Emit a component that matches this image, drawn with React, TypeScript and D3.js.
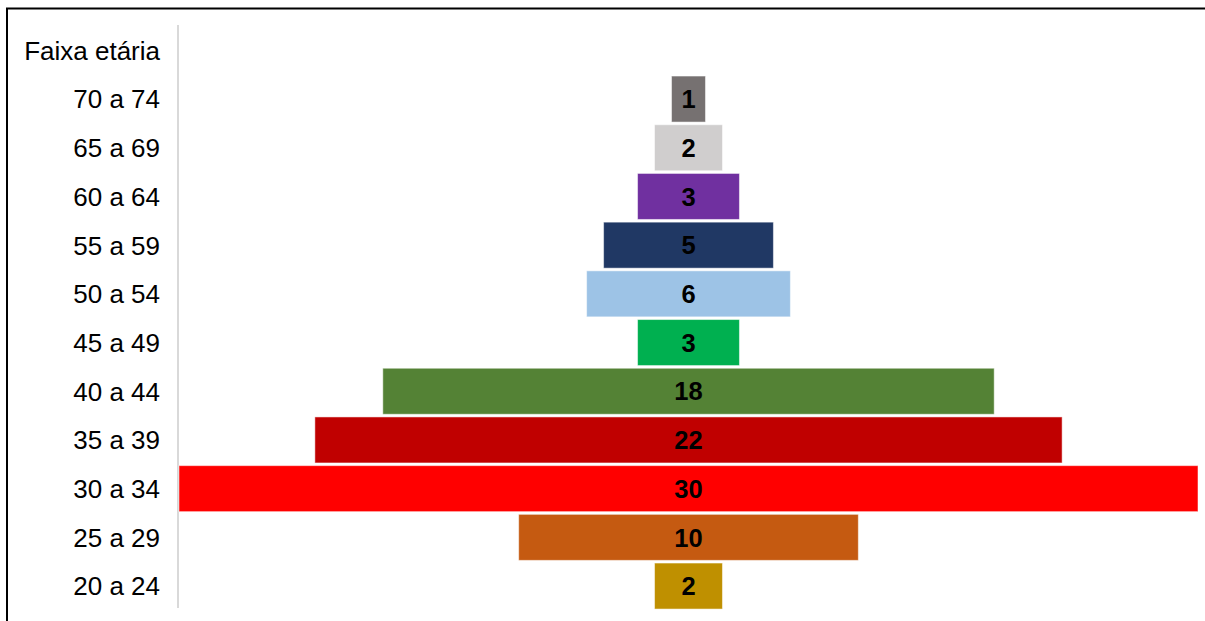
import React from "react";
import * as d3 from "d3";

const headerLabel = "Faixa etária";
const categories = ["70 a 74", "65 a 69", "60 a 64", "55 a 59", "50 a 54", "45 a 49", "40 a 44", "35 a 39", "30 a 34", "25 a 29", "20 a 24"];
const values = [1, 2, 3, 5, 6, 3, 18, 22, 30, 10, 2];
const colors = ["#767171", "#d0cece", "#7030a0", "#203864", "#9dc3e6", "#00b050", "#548235", "#c00000", "#ff0000", "#c55a11", "#bf9000"];

const W = 1205;
const H = 621;
const CENTER = 688.5;
const MAXW = 1019;

export default function App() {
  const rows = [headerLabel, ...categories];
  const y = d3.scaleBand<string>().domain(rows).range([26, 610.4]).paddingInner(0.055).paddingOuter(0.0275);
  const maxV = d3.max(values) as number;
  const w = d3.scaleLinear().domain([0, maxV]).range([0, MAXW]);
  const font = "'Liberation Sans', Arial, sans-serif";
  return (
    <svg width={W} height={H} style={{ position: "absolute", left: 0, top: 0, background: "#fff" }}>
      <line x1={6} x2={W} y1={8.5} y2={8.5} stroke="#000" strokeWidth={2} />
      <line x1={7} x2={7} y1={8} y2={H} stroke="#000" strokeWidth={2} />
      <line x1={178} x2={178} y1={25} y2={608} stroke="#d9d9d9" strokeWidth={2} />
      {categories.map((c, i) => {
        const bw = w(values[i]);
        const yy = y(c)!;
        return (
          <g key={c}>
            <rect x={CENTER - bw / 2} y={yy} width={bw} height={y.bandwidth()} fill={colors[i]} stroke="#ffffff" strokeOpacity={0.5} strokeWidth={1} />
            <text x={CENTER} y={yy + y.bandwidth() / 2} dy="0.36em" textAnchor="middle" fontFamily={font} fontWeight="bold" fontSize={25.5} fill="#000">{values[i]}</text>
          </g>
        );
      })}
      {rows.map((r) => (
        <text key={r} x={160} y={y(r)! + y.bandwidth() / 2} dy="0.36em" textAnchor="end" fontFamily={font} fontSize={26} fill="#000">{r}</text>
      ))}
    </svg>
  );
}
